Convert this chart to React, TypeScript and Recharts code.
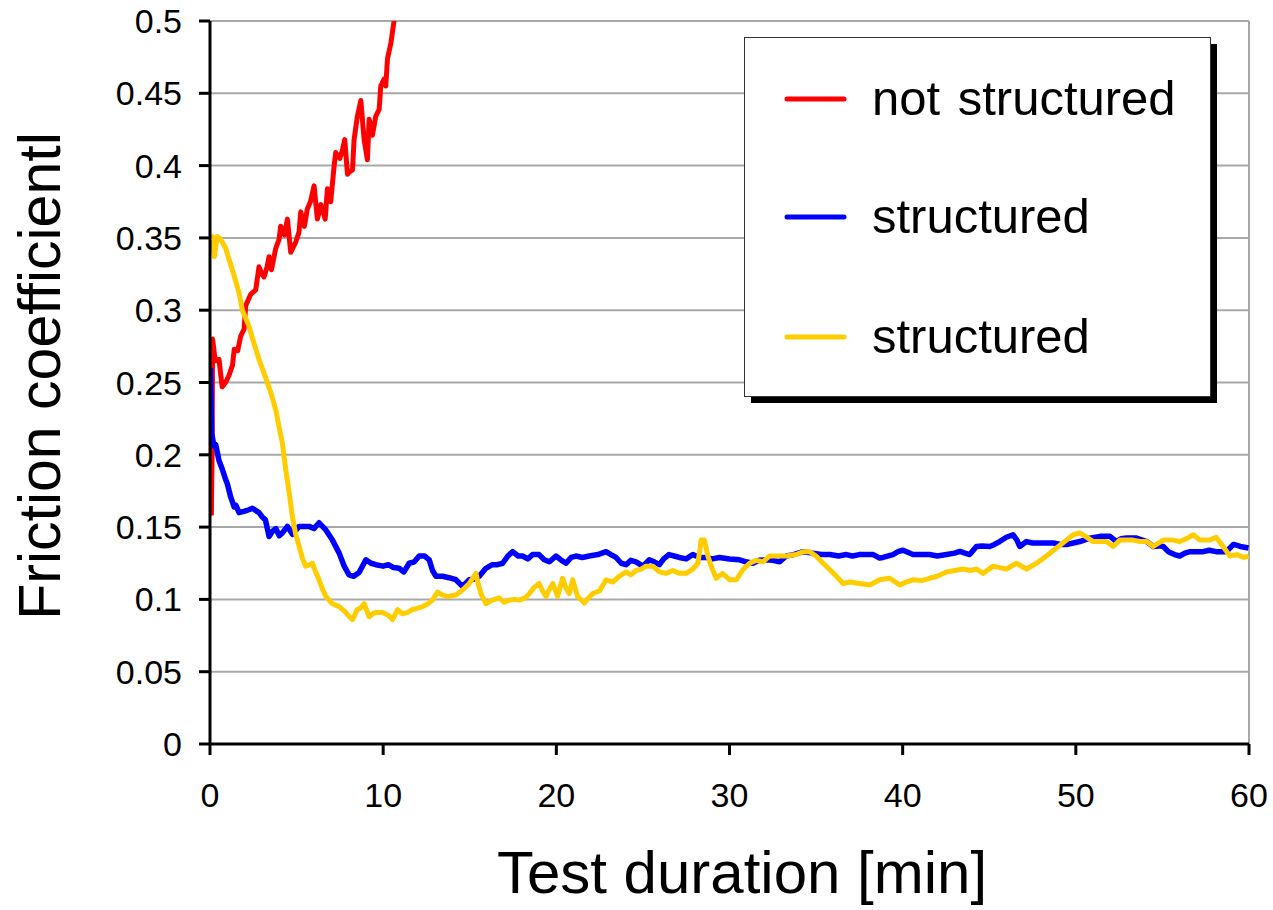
import React from 'react';
import { LineChart, Line, XAxis, YAxis, CartesianGrid, Legend, ReferenceLine, Label } from 'recharts';

const xTicks = [0, 10, 20, 30, 40, 50, 60];
const yTicks = [0, 0.05, 0.1, 0.15, 0.2, 0.25, 0.3, 0.35, 0.4, 0.45, 0.5];

const seriesNames = ['not structured', 'structured', 'structured'];
const seriesColors = ['#FF0000', '#0000FF', '#FFCC00'];

// [time min, friction coefficient]
const notStructured: [number, number][] = [
  [0.08, 0.158], [0.12, 0.2], [0.15, 0.28], [0.3, 0.265], [0.52, 0.266], [0.7, 0.247], [0.9, 0.25], [1.1, 0.255],
  [1.3, 0.262], [1.4, 0.273], [1.6, 0.272], [1.77, 0.282], [1.97, 0.287], [2.06, 0.303], [2.35, 0.311], [2.64, 0.314],
  [2.83, 0.33], [3.0, 0.325], [3.12, 0.323], [3.3, 0.33], [3.41, 0.337], [3.55, 0.328], [3.8, 0.343], [3.99, 0.349],
  [4.08, 0.358], [4.3, 0.352], [4.47, 0.363], [4.66, 0.34], [4.95, 0.347], [5.14, 0.354], [5.24, 0.368], [5.45, 0.358],
  [5.62, 0.37], [5.8, 0.375], [6.01, 0.386], [6.2, 0.363], [6.4, 0.373], [6.65, 0.363], [6.78, 0.384], [6.97, 0.375],
  [7.17, 0.4], [7.26, 0.409], [7.5, 0.405], [7.65, 0.411], [7.78, 0.418], [7.94, 0.394], [8.1, 0.396], [8.23, 0.397],
  [8.32, 0.418], [8.51, 0.434], [8.71, 0.445], [8.9, 0.418], [9.09, 0.404], [9.19, 0.432], [9.38, 0.421], [9.57, 0.434],
  [9.77, 0.439], [9.86, 0.455], [10.06, 0.46], [10.15, 0.455], [10.25, 0.474], [10.45, 0.485], [10.64, 0.501], [10.8, 0.515],
];

const structuredBlue: [number, number][] = [
  [0.02, 0.26], [0.05, 0.245], [0.1, 0.215], [0.23, 0.206], [0.33, 0.207], [0.52, 0.196], [0.71, 0.19], [0.9, 0.183],
  [1.0, 0.18], [1.19, 0.171], [1.39, 0.164], [1.5, 0.165], [1.68, 0.16], [2.0, 0.161], [2.25, 0.162], [2.45, 0.163],
  [2.83, 0.16], [3.02, 0.157], [3.2, 0.155], [3.41, 0.1435], [3.6, 0.147], [3.8, 0.149], [4.0, 0.144], [4.18, 0.146],
  [4.47, 0.1505], [4.76, 0.145], [5.14, 0.1505], [5.72, 0.1505], [6.0, 0.149], [6.3, 0.153], [6.69, 0.148], [7.07, 0.141],
  [7.46, 0.132], [7.75, 0.123], [8.03, 0.117], [8.3, 0.116], [8.61, 0.1186], [9.0, 0.1274], [9.3, 0.125], [9.58, 0.124],
  [10.0, 0.123], [10.3, 0.124], [10.6, 0.122], [10.92, 0.1215], [11.2, 0.119], [11.5, 0.125], [11.8, 0.126], [12.08, 0.13],
  [12.4, 0.13], [12.66, 0.1274], [12.85, 0.12], [13.05, 0.116], [13.43, 0.116], [13.8, 0.115], [14.2, 0.1136], [14.58, 0.109],
  [14.97, 0.1136], [15.2, 0.114], [15.55, 0.116], [15.93, 0.1215], [16.3, 0.124], [16.6, 0.124], [16.9, 0.125], [17.2, 0.13],
  [17.47, 0.133], [17.8, 0.13], [18.05, 0.13], [18.35, 0.128], [18.63, 0.131], [19.0, 0.131], [19.3, 0.1274], [19.6, 0.126],
  [19.98, 0.13], [20.3, 0.127], [20.56, 0.125], [20.85, 0.129], [21.14, 0.13], [21.5, 0.129], [21.9, 0.13], [22.4, 0.131],
  [22.87, 0.133], [23.15, 0.131], [23.45, 0.129], [23.75, 0.125], [24.03, 0.124], [24.3, 0.127], [24.6, 0.126], [25.0, 0.123],
  [25.37, 0.1274], [25.65, 0.126], [25.95, 0.124], [26.2, 0.128], [26.5, 0.131], [26.8, 0.13], [27.1, 0.129], [27.5, 0.128],
  [27.88, 0.131], [28.3, 0.129], [28.65, 0.129], [29.0, 0.128], [29.42, 0.129], [30.0, 0.128], [30.58, 0.1274], [30.95, 0.126],
  [31.35, 0.125], [31.7, 0.127], [32.1, 0.1274], [32.5, 0.127], [32.9, 0.126], [33.28, 0.13], [33.7, 0.131], [34.24, 0.133],
  [34.8, 0.132], [35.3, 0.131], [35.8, 0.131], [36.3, 0.13], [36.75, 0.131], [37.1, 0.13], [37.5, 0.131], [38.3, 0.131],
  [38.67, 0.1286], [38.86, 0.129], [39.44, 0.131], [39.73, 0.133], [40.02, 0.134], [40.6, 0.131], [41.1, 0.131], [41.56, 0.131],
  [42.0, 0.13], [42.53, 0.131], [43.0, 0.132], [43.3, 0.1332], [43.6, 0.132], [43.87, 0.131], [44.26, 0.1366], [44.6, 0.137],
  [45.03, 0.1366], [45.3, 0.138], [45.6, 0.14], [45.99, 0.143], [46.37, 0.1447], [46.6, 0.141], [46.76, 0.1366], [47.15, 0.14],
  [47.5, 0.139], [47.92, 0.139], [48.3, 0.139], [48.7, 0.139], [49.1, 0.138], [49.46, 0.138], [49.85, 0.139], [50.23, 0.14],
  [50.8, 0.1424], [51.39, 0.1436], [51.97, 0.1436], [52.35, 0.14], [52.6, 0.142], [52.93, 0.1424], [53.5, 0.1424], [54.1, 0.14],
  [54.47, 0.1366], [54.8, 0.137], [55.05, 0.1366], [55.34, 0.133], [55.7, 0.131], [56.0, 0.13], [56.3, 0.132], [56.6, 0.133],
  [57.0, 0.133], [57.36, 0.133], [57.7, 0.134], [58.1, 0.133], [58.4, 0.133], [58.7, 0.133], [59.1, 0.138], [59.5, 0.1366],
  [59.97, 0.1355],
];

const structuredYellow: [number, number][] = [
  [0.05, 0.34], [0.15, 0.351], [0.25, 0.337], [0.42, 0.351], [0.61, 0.349], [0.9, 0.343], [1.1, 0.335], [1.39, 0.324],
  [1.68, 0.312], [1.87, 0.3], [2.25, 0.289], [2.54, 0.277], [2.83, 0.266], [3.22, 0.253], [3.51, 0.243], [3.8, 0.231],
  [3.99, 0.219], [4.18, 0.208], [4.37, 0.19], [4.57, 0.174], [4.76, 0.157], [4.95, 0.145], [5.14, 0.137], [5.35, 0.128],
  [5.53, 0.123], [5.75, 0.124], [5.91, 0.125], [6.1, 0.119], [6.3, 0.1135], [6.5, 0.107], [6.69, 0.102], [7.07, 0.097],
  [7.46, 0.095], [7.84, 0.091], [8.05, 0.088], [8.23, 0.086], [8.5, 0.093], [8.7, 0.094], [8.9, 0.097], [9.19, 0.088],
  [9.4, 0.09], [9.57, 0.091], [9.96, 0.091], [10.3, 0.089], [10.54, 0.086], [10.83, 0.093], [11.12, 0.09], [11.4, 0.091],
  [11.7, 0.093], [12.0, 0.094], [12.27, 0.095], [12.6, 0.097], [12.85, 0.0997], [13.14, 0.105], [13.43, 0.103], [13.72, 0.102],
  [14.2, 0.103], [14.58, 0.1065], [14.97, 0.111], [15.36, 0.118], [15.5, 0.11], [15.65, 0.104], [15.93, 0.097], [16.3, 0.0995],
  [16.7, 0.101], [17.0, 0.098], [17.28, 0.0995], [17.6, 0.1], [17.86, 0.0995], [18.2, 0.101], [18.44, 0.104], [18.7, 0.108],
  [19.0, 0.111], [19.2, 0.106], [19.4, 0.102], [19.6, 0.107], [19.8, 0.111], [20.07, 0.102], [20.36, 0.1146], [20.55, 0.108],
  [20.75, 0.104], [20.94, 0.1136], [21.23, 0.102], [21.62, 0.0975], [21.85, 0.101], [22.1, 0.104], [22.5, 0.106], [22.87, 0.1136],
  [23.25, 0.112], [23.64, 0.116], [24.03, 0.119], [24.3, 0.117], [24.6, 0.12], [24.9, 0.121], [25.18, 0.123], [25.57, 0.123],
  [25.95, 0.119], [26.34, 0.118], [26.72, 0.12], [27.1, 0.118], [27.49, 0.118], [27.88, 0.121], [28.17, 0.125], [28.3, 0.135],
  [28.36, 0.141], [28.55, 0.141], [28.75, 0.13], [28.94, 0.123], [29.23, 0.1146], [29.6, 0.118], [30.0, 0.1136], [30.4, 0.1136],
  [30.77, 0.1205], [31.16, 0.125], [31.54, 0.127], [31.93, 0.126], [32.3, 0.13], [32.7, 0.13], [33.28, 0.13], [33.85, 0.131],
  [34.24, 0.133], [34.62, 0.133], [35.0, 0.13], [35.4, 0.125], [35.8, 0.1205], [36.17, 0.116], [36.56, 0.111], [36.95, 0.112],
  [37.5, 0.111], [38.1, 0.11], [38.67, 0.1136], [39.25, 0.1146], [39.83, 0.11], [40.2, 0.112], [40.6, 0.1136], [41.1, 0.113],
  [41.56, 0.1146], [42.0, 0.116], [42.53, 0.119], [43.0, 0.12], [43.49, 0.121], [43.9, 0.12], [44.26, 0.121], [44.64, 0.118],
  [45.22, 0.123], [45.6, 0.122], [45.99, 0.121], [46.57, 0.125], [47.15, 0.121], [47.73, 0.125], [48.3, 0.13], [48.88, 0.1355],
  [49.46, 0.141], [49.85, 0.1447], [50.23, 0.146], [50.62, 0.143], [51.0, 0.14], [51.4, 0.14], [51.77, 0.14], [52.16, 0.1366],
  [52.54, 0.141], [52.9, 0.141], [53.3, 0.141], [53.7, 0.14], [54.1, 0.14], [54.47, 0.1366], [55.05, 0.141], [55.6, 0.141],
  [56.0, 0.14], [56.4, 0.142], [56.78, 0.1447], [57.17, 0.141], [57.75, 0.141], [58.1, 0.143], [58.5, 0.1366], [58.9, 0.13],
  [59.3, 0.131], [59.7, 0.129], [59.97, 0.13],
];

const seriesData = [notStructured, structuredBlue, structuredYellow].map((s) => s.map(([t, v]) => ({ t, v })));
const seriesWidths = [5, 5.5, 5];

const FONT = '"Liberation Sans", Arial, Helvetica, sans-serif';

const LegendBox = () => (
  <svg width={480} height={372} style={{ display: 'block', overflow: 'visible' }}>
    <rect x={7} y={7} width={466} height={359} fill="#000" />
    <rect x={0.5} y={0.5} width={466} height={359} fill="#fff" stroke="#333" strokeWidth={1} />
    {seriesNames.map((name, i) => {
      const cy = [62, 180, 300][i];
      return (
        <g key={i}>
          <line x1={43} x2={100} y1={cy} y2={cy} stroke={seriesColors[i]} strokeWidth={5} strokeLinecap="round" />
          <text x={128} y={cy + 16} fontSize={49} fontFamily={FONT} fill="#000" wordSpacing={4}>{name}</text>
        </g>
      );
    })}
  </svg>
);

export default function App() {
  return (
    <div style={{ position: 'absolute', left: 0, top: 0, width: 1273, height: 910, background: '#fff' }}>
      <LineChart width={1273} height={910} margin={{ top: 21, right: 24, bottom: 66, left: 0 }}>
        <CartesianGrid vertical={false} stroke="#a8a8a8" strokeWidth={2} />
        <ReferenceLine x={60} stroke="#a8a8a8" strokeWidth={2} />
        <XAxis
          type="number"
          dataKey="t"
          domain={[0, 60]}
          ticks={xTicks}
          allowDataOverflow
          height={100}
          tickSize={11}
          tickMargin={28}
          axisLine={{ stroke: '#000', strokeWidth: 3 }}
          tickLine={{ stroke: '#000', strokeWidth: 3 }}
          tick={{ fill: '#000', fontSize: 34, fontFamily: FONT }}
        >
          <Label
            content={() => (
              <text x={742} y={893} textAnchor="middle" fontSize={60} fontFamily={FONT} fill="#000">
                Test duration [min]
              </text>
            )}
          />
        </XAxis>
        <YAxis
          type="number"
          domain={[0, 0.5]}
          ticks={yTicks}
          allowDataOverflow
          width={210}
          tickSize={11}
          tickMargin={17}
          axisLine={{ stroke: '#000', strokeWidth: 3 }}
          tickLine={{ stroke: '#000', strokeWidth: 3 }}
          tick={{ fill: '#000', fontSize: 34, fontFamily: FONT }}
        >
          <Label
            content={() => (
              <text
                x={60}
                y={376}
                transform="rotate(-90 60 376)"
                textAnchor="middle"
                fontSize={59}
                fontFamily={FONT}
                fill="#000"
              >
                Friction coefficientl
              </text>
            )}
          />
        </YAxis>
        {seriesData.map((d, i) => (
          <Line
            key={i}
            data={d}
            dataKey="v"
            name={seriesNames[i]}
            type="linear"
            stroke={seriesColors[i]}
            strokeWidth={seriesWidths[i]}
            strokeLinejoin="round"
            dot={false}
            activeDot={false}
            isAnimationActive={false}
          />
        ))}
        <Legend
          layout="horizontal"
          verticalAlign="middle"
          content={() => <LegendBox />}
          wrapperStyle={{ left: 744, top: 37, width: 480, height: 372 }}
        />
      </LineChart>
    </div>
  );
}
